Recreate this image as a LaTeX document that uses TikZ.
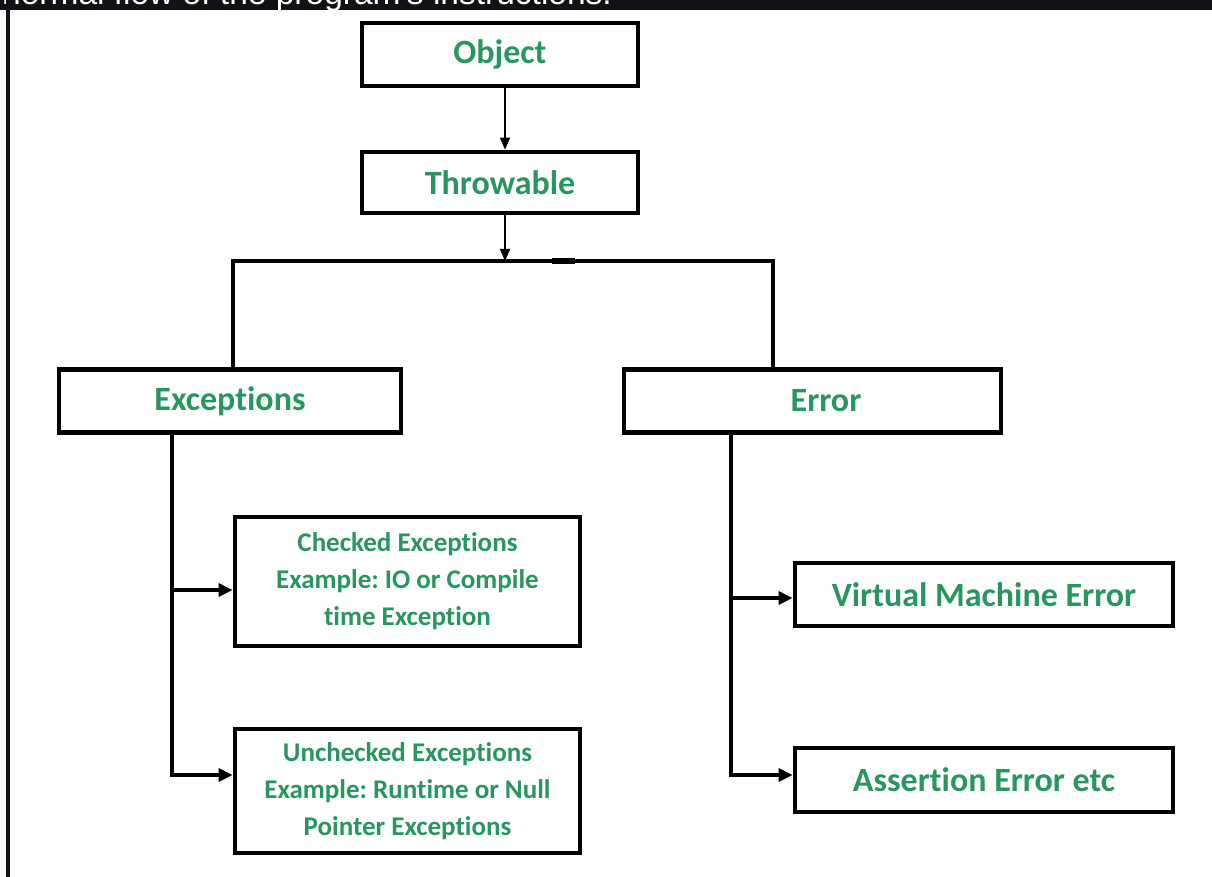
\documentclass[tikz,border=0pt]{standalone}
\usepackage{fontspec}
\setmainfont{Carlito}[Ligatures=NoCommon]
\newfontfamily\barfont{Liberation Sans}
\usetikzlibrary{arrows.meta}
\definecolor{labelgreen}{RGB}{40,150,95}
\definecolor{barblack}{RGB}{17,18,22}
\frenchspacing
\begin{document}
\begin{tikzpicture}[x=1pt,y=-1pt,
  box/.style={draw=black, line width=4.8pt, fill=white, inner sep=0pt},
  lbl/.style={text=labelgreen, font=\fontsize{34}{40}\selectfont\bfseries, inner sep=0pt},
  small/.style={text=labelgreen, font=\fontsize{27}{37}\selectfont\bfseries, align=center, inner sep=0pt},
  thinarrow/.style={line width=1.8pt, -{Triangle[length=12pt,width=10pt]}},
  link/.style={line width=4pt},
  branch/.style={line width=4pt, -{Triangle[length=14pt,width=13pt]}}]

\useasboundingbox[fill=white] (0,0) rectangle (1212,877);

% caption strip along the top edge, cut by the frame
\fill[barblack] (0,0) rectangle (1212,10);
\begin{scope}
  \clip (0,0) rectangle (1212,10);
  \node[anchor=base west, text=white, inner sep=0pt,
        font=\barfont\fontsize{33.5}{40}\selectfont] (cap) at (2,4.5)
        {normal flow of the program's instructions.};
\end{scope}
\draw[barblack, line width=4pt] (8,0) -- (8,877);

% hierarchy boxes
\node[box, lbl, minimum width=276pt, minimum height=63pt] (obj) at (500,54.5) {Object};
\node[box, lbl, minimum width=276pt, minimum height=61pt] (thr) at (500,182.5) {Throwable};
\node[box, lbl, minimum width=342pt, minimum height=63pt] (exc) at (230,401) {Exceptions};
\node[box, minimum width=377pt, minimum height=63pt] (err) at (812.5,401) {};
\node[lbl] (errt) at (826,401) {Error};

\node[box, small, minimum width=345pt, minimum height=129pt] (chk) at (407.5,581.5)
  {Checked Exceptions\\Example: IO or Compile\\time Exception};
\node[box, small, minimum width=345pt, minimum height=124pt] (unc) at (407.5,791)
  {Unchecked Exceptions\\Example: Runtime or Null\\Pointer Exceptions};
\node[box, lbl, minimum width=378pt, minimum height=63pt] (vme) at (984,594.5) {Virtual Machine Error};
\node[box, lbl, minimum width=378pt, minimum height=64pt] (ase) at (984,780) {Assertion Error etc};

% Object -> Throwable -> split
\coordinate (ax) at (505,0);
\coordinate (jn) at (505,261);
\draw[thinarrow] (obj.south -| ax) -- (thr.north -| ax);
\draw[thinarrow] (thr.south -| ax) -- (jn);

\coordinate (bl) at (233,261);
\coordinate (br) at (773,261);
\draw[link] (exc.north -| bl) -- (bl) -- (br) -- (err.north -| br);
\draw[line width=6pt] (552,261) -- (575,261);

% Exceptions branch
\coordinate (l1) at (172,590);
\coordinate (l2) at (172,775);
\draw[branch] (exc.south -| l1) -- (l2) -- (l2 -| unc.west);
\draw[branch] (l1) -- (l1 -| chk.west);

% Error branch
\coordinate (r1) at (731,598);
\coordinate (r2) at (731,775);
\draw[branch] (err.south -| r1) -- (r2) -- (r2 -| ase.west);
\draw[branch] (r1) -- (r1 -| vme.west);
\end{tikzpicture}
\end{document}
